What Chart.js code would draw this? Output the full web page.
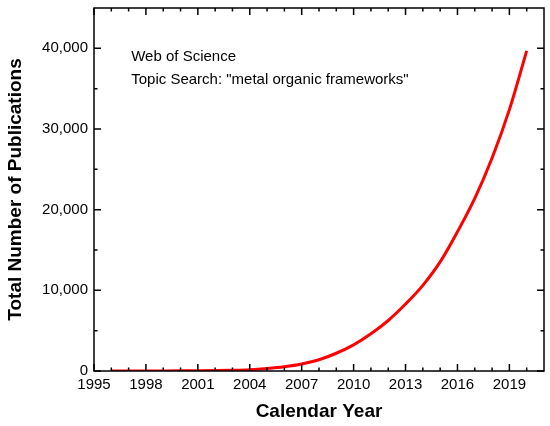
<!DOCTYPE html>
<html lang="en">
<head>
    <meta charset="UTF-8">
    <title>MOF Publications</title>
    <style>
        body { margin: 0; background: white; }
        #wrap { width: 550px; height: 426px; }
    </style>
    <script src="https://cdn.jsdelivr.net/npm/chart.js"></script>
</head>
<body>
    <div id="wrap"><canvas id="myChart" width="550" height="426"></canvas></div>
    <script>
        // data
        const years = [1996, 1997, 1998, 1999, 2000, 2001, 2002, 2003, 2004, 2005, 2006, 2007, 2008,
                       2009, 2010, 2011, 2012, 2013, 2014, 2015, 2016, 2017, 2018, 2019, 2020];
        const publications = [2, 4, 8, 12, 20, 35, 55, 90, 160, 310, 530, 870, 1400,
                              2200, 3240, 4610, 6260, 8300, 10620, 13520, 17260, 21400, 26400, 32400, 39680];
        const xTicks = [1995, 1998, 2001, 2004, 2007, 2010, 2013, 2016, 2019];
        const yTicks = [0, 10000, 20000, 30000, 40000];
        const noteLines = ['Web of Science', 'Topic Search: "metal organic frameworks"'];
        const noteAt = { x: 1997.15, y: [38900, 36150] };

        const font = 'Liberation Sans, Arial, sans-serif';

        // frame plus inward ticks on all four sides, like the original plot
        const framePlugin = {
            id: 'frame',
            afterDraw(chart) {
                const { ctx, chartArea: a, scales: { x, y } } = chart;
                ctx.save();
                ctx.strokeStyle = '#000';
                ctx.lineWidth = 1.5;
                ctx.strokeRect(a.left, a.top, a.right - a.left, a.bottom - a.top);
                ctx.beginPath();
                for (let v = x.min; v < x.max; v += 1) {
                    const px = x.getPixelForValue(v);
                    const len = (v - 1995) % 3 === 0 ? 7 : 3.5;
                    ctx.moveTo(px, a.bottom); ctx.lineTo(px, a.bottom - len);
                    ctx.moveTo(px, a.top); ctx.lineTo(px, a.top + len);
                }
                for (let v = y.min; v < y.max; v += 5000) {
                    const py = y.getPixelForValue(v);
                    const len = v % 10000 === 0 ? 7 : 3.5;
                    ctx.moveTo(a.left, py); ctx.lineTo(a.left + len, py);
                    ctx.moveTo(a.right, py); ctx.lineTo(a.right - len, py);
                }
                ctx.stroke();

                ctx.fillStyle = '#000';
                ctx.font = '15px ' + font;
                ctx.textAlign = 'left';
                ctx.textBaseline = 'middle';
                noteLines.forEach((t, i) => {
                    ctx.fillText(t, x.getPixelForValue(noteAt.x), y.getPixelForValue(noteAt.y[i]));
                });
                ctx.restore();
            }
        };

        const ctx = document.getElementById('myChart').getContext('2d');
        const myChart = new Chart(ctx, {
            type: 'line',
            data: {
                datasets: [{
                    data: years.map((yr, i) => ({ x: yr, y: publications[i] })),
                    borderColor: '#ff0000',
                    borderWidth: 3,
                    pointRadius: 0,
                    cubicInterpolationMode: 'monotone',
                    fill: false
                }]
            },
            options: {
                responsive: false,
                animation: false,
                layout: { padding: { left: 0, right: 6, top: 8, bottom: 0 } },
                plugins: { legend: { display: false }, tooltip: { enabled: false } },
                scales: {
                    x: {
                        type: 'linear',
                        min: 1995,
                        max: 2021,
                        afterBuildTicks(scale) { scale.ticks = xTicks.map(v => ({ value: v })); },
                        afterFit(scale) { scale.height = 55; },
                        grid: { display: false, drawTicks: false },
                        border: { display: false },
                        ticks: {
                            padding: 5,
                            color: '#000',
                            font: { family: font, size: 15 },
                            maxRotation: 0,
                            autoSkip: false,
                            callback: v => String(v)
                        },
                        title: {
                            display: true,
                            text: 'Calendar Year',
                            color: '#000',
                            font: { family: font, size: 19, weight: 'bold' },
                            padding: { top: 0, bottom: 3 }
                        }
                    },
                    y: {
                        min: 0,
                        max: 45000,
                        afterBuildTicks(scale) { scale.ticks = yTicks.map(v => ({ value: v })); },
                        afterFit(scale) {
                            scale.width = 94;
                            scale.paddingTop = 0;
                            scale.paddingBottom = 0;
                        },
                        grid: { display: false, drawTicks: false },
                        border: { display: false },
                        ticks: {
                            padding: 6,
                            color: '#000',
                            font: { family: font, size: 15 },
                            callback: v => v.toLocaleString('en-US')
                        },
                        title: {
                            display: true,
                            text: 'Total Number of Publications',
                            color: '#000',
                            font: { family: font, size: 19, weight: 'bold' },
                            padding: { top: 4, bottom: 0 }
                        }
                    }
                }
            },
            plugins: [framePlugin]
        });
    </script>
</body>
</html>
